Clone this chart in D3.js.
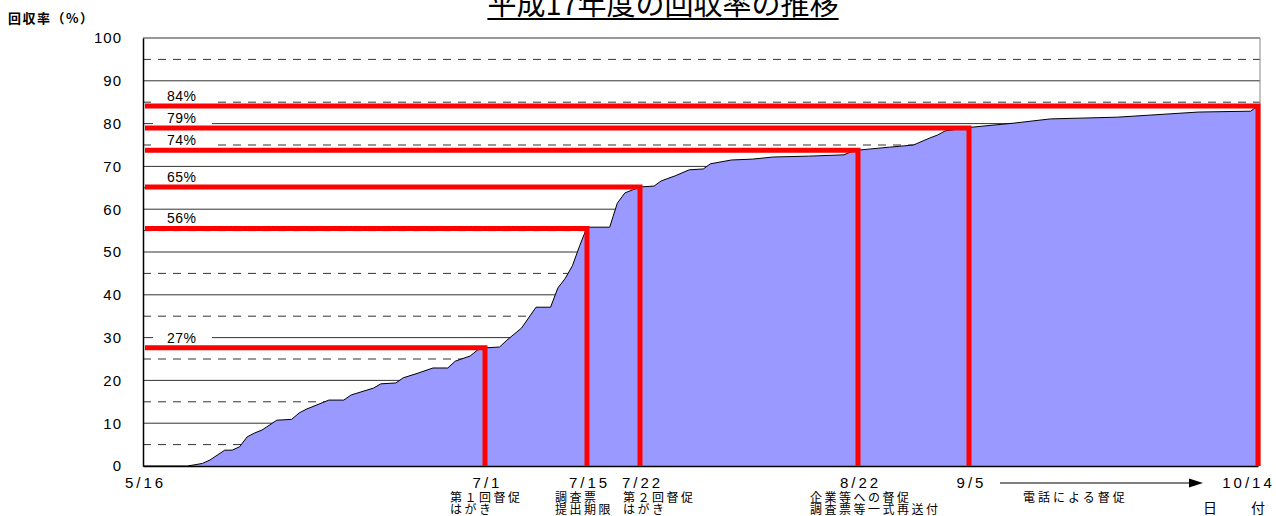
<!DOCTYPE html>
<html>
<head>
<meta charset="utf-8">
<script src="https://cdn.jsdelivr.net/npm/d3@7"></script>
<style>
  body { margin: 0; background: #fff; }
  svg { display: block; }
</style>
</head>
<body>
<svg id="chart" width="1276" height="516"></svg>
<script>
// daily cumulative return rate (%)
var dates = ["5/16","5/22","5/24","5/25","5/27","5/28","5/29","5/30","5/31","6/1",
  "6/3","6/5","6/6","6/7","6/8","6/10","6/12","6/13","6/16","6/17",
  "6/19","6/20","6/22","6/24","6/26","6/27","6/29","6/30","7/1","7/3",
  "7/4","7/6","7/8","7/10","7/11","7/12","7/13","7/14","7/15","7/18",
  "7/19","7/20","7/21","7/22","7/24","7/25","7/27","7/29","7/31","8/1",
  "8/4","8/7","8/10","8/15","8/20","8/21","8/22","8/26","8/29","8/31",
  "9/1","9/2","9/5","9/11","9/16","9/25","10/6","10/13","10/14"];
var rates = [0,0,0.6,1.4,3.7,3.7,4.5,6.8,7.7,8.4,
  10.7,10.9,12.4,13.3,14.0,15.4,15.4,16.6,18.2,19.2,
  19.4,20.6,21.7,22.9,22.9,24.5,25.7,27.1,27.6,27.8,
  29.4,32.2,37.1,37.1,41.6,43.8,46.8,51.5,55.8,55.8,
  61.4,63.8,64.5,65.2,65.4,66.6,67.8,69.2,69.4,70.6,
  71.5,71.7,72.2,72.4,72.7,73.4,73.8,74.5,75.0,76.6,
  77.3,78.3,79.1,80.1,81.1,81.5,82.7,82.9,84.1];

// milestones (red lines)
var milestoneDates = ["7/1","7/15","7/22","8/22","9/5","10/14"];
var milestoneRates = [27.6, 55.5, 65.2, 73.8, 79.0, 84.1];
var milestoneLabels = ["27%","56%","65%","74%","79%","84%"];

// notes under the date labels
var noteDates = ["7/1","7/15","7/22","8/22"];
var noteLines = [["第１回督促","はがき"],["調査票","提出期限"],["第２回督促","はがき"],["企業等への督促","調査票等一式再送付"]];
var noteDx = [-35, -32, -17, -48];

var xTickLabels = ["5/16","7/1","7/15","7/22","8/22","9/5","10/14"];
var yTicks = [0,10,20,30,40,50,60,70,80,90,100];
var yDashed = [5,15,25,35,45,55,65,75,85,95];

var parseDate = function (s) { return d3.timeParse("%Y/%m/%d")("2005/" + s); };

var svg = d3.select("#chart");
var plotLeft = 143, plotRight = 1260, plotTop = 38, plotBottom = 466;
var latin = "'Liberation Sans', Arial, sans-serif";
var cjk = "'Noto Sans CJK JP', sans-serif";

// piecewise time scale: the original category axis is not quite uniform
var x = d3.scaleTime()
  .domain(["5/16"].concat(milestoneDates).map(parseDate))
  .range([plotLeft, 485, 587, 640, 858, 969, 1258]);
var y = d3.scaleLinear().domain([0, 100]).range([plotBottom, plotTop]);

var data = dates.map(function (d, i) { return {date: parseDate(d), value: rates[i]}; });

// grid
svg.append("g").selectAll("line").data(yDashed).join("line")
  .attr("x1", plotLeft).attr("x2", plotRight)
  .attr("y1", function (d) { return y(d); }).attr("y2", function (d) { return y(d); })
  .attr("stroke", "#333").attr("stroke-dasharray", "8,7");
svg.append("g").selectAll("line").data(yTicks.slice(1)).join("line")
  .attr("x1", plotLeft).attr("x2", plotRight)
  .attr("y1", function (d) { return y(d); }).attr("y2", function (d) { return y(d); })
  .attr("stroke", "#333");
svg.append("line")
  .attr("x1", plotRight).attr("x2", plotRight).attr("y1", plotTop).attr("y2", plotBottom)
  .attr("stroke", "#888");

// area
var area = d3.area()
  .x(function (d) { return x(d.date); })
  .y0(y(0))
  .y1(function (d) { return y(d.value); });
var line = d3.line()
  .x(function (d) { return x(d.date); })
  .y(function (d) { return y(d.value); });
svg.append("path").datum(data)
  .attr("d", area)
  .attr("fill", "#9999FF");
svg.append("path").datum(data)
  .attr("d", line)
  .attr("fill", "none").attr("stroke", "#000").attr("stroke-width", 1);

// title
var title = svg.append("text")
  .attr("x", 663).attr("y", 15)
  .attr("text-anchor", "middle")
  .style("font-family", cjk).style("font-size", "29px")
  .text("平成17年度の回収率の推移");
var tw = title.node().getComputedTextLength();
svg.append("line")
  .attr("x1", 663 - tw / 2).attr("x2", 663 + tw / 2)
  .attr("y1", 19).attr("y2", 19)
  .attr("stroke", "#000").attr("stroke-width", 2);

// y axis title
svg.append("text")
  .attr("x", 8).attr("y", 23)
  .style("font-family", cjk).style("font-size", "13px").style("font-weight", "bold")
  .style("letter-spacing", "1.5px")
  .text("回収率（%）");

// axes
var yAxis = d3.axisLeft(y).tickValues(yTicks).tickSize(0).tickPadding(21);
var gy = svg.append("g").attr("transform", "translate(" + plotLeft + ",0)").call(yAxis);
gy.select(".domain").attr("stroke", "#000").attr("stroke-width", 1.5);
gy.selectAll("text")
  .style("font-family", latin).style("font-size", "15px")
  .style("letter-spacing", "1px").attr("fill", "#000");

var xAxis = d3.axisBottom(x)
  .tickValues(xTickLabels.map(parseDate))
  .tickFormat(d3.timeFormat("%-m/%-d"))
  .tickSize(0).tickPadding(11);
var gx = svg.append("g").attr("transform", "translate(0," + plotBottom + ")").call(xAxis);
gx.select(".domain").attr("stroke", "#000").attr("stroke-width", 1.5);
gx.selectAll("text")
  .style("font-family", latin).style("font-size", "15px")
  .style("letter-spacing", "3px").attr("fill", "#000")
  .attr("dx", function (d, i) { return i === xTickLabels.length - 1 ? -10 : 2; });

// label boxes + labels
var ms = milestoneDates.map(function (d, i) {
  return {date: parseDate(d), value: milestoneRates[i], label: milestoneLabels[i]};
});
var lab = svg.append("g");
lab.selectAll("rect").data(ms).join("rect")
  .attr("x", 153).attr("width", 59)
  .attr("y", function (d) { return y(d.value) - 18; })
  .attr("height", 15.5)
  .attr("fill", "#fff");
lab.selectAll("text").data(ms).join("text")
  .attr("x", 167)
  .attr("y", function (d) { return y(d.value) - 5; })
  .style("font-family", latin).style("font-size", "14px")
  .style("letter-spacing", "0.5px")
  .text(function (d) { return d.label; });

// red lines
svg.append("g").selectAll("path").data(ms).join("path")
  .attr("d", function (d) {
    return "M" + (plotLeft + 2) + "," + y(d.value) + "H" + x(d.date) + "V" + plotBottom;
  })
  .attr("fill", "none").attr("stroke", "#FF0000").attr("stroke-width", 5)
  .attr("stroke-linejoin", "miter");

// notes
noteDates.forEach(function (d, i) {
  var t = svg.append("text")
    .attr("x", x(parseDate(d)) + noteDx[i]).attr("y", 502)
    .style("font-family", cjk).style("font-size", "12px")
    .style("letter-spacing", "2.5px");
  noteLines[i].forEach(function (s, j) {
    t.append("tspan").attr("x", x(parseDate(d)) + noteDx[i])
      .attr("dy", j === 0 ? 0 : 12).text(s);
  });
});

// phone reminder arrow
var ax0 = x(parseDate("9/5")) + 31, ax1 = x(parseDate("10/14")) - 55;
svg.append("line")
  .attr("x1", ax0).attr("x2", ax1 - 10).attr("y1", 483).attr("y2", 483)
  .attr("stroke", "#000").attr("stroke-width", 1.2);
svg.append("path")
  .attr("d", "M" + ax1 + ",483L" + (ax1 - 14) + ",478.5L" + (ax1 - 14) + ",487.5Z")
  .attr("fill", "#000");
svg.append("text")
  .attr("x", ax0 + 23).attr("y", 502)
  .style("font-family", cjk).style("font-size", "12px")
  .style("letter-spacing", "3px")
  .text("電話による督促");

// x axis title
svg.append("text").attr("x", 1203).attr("y", 513)
  .style("font-family", cjk).style("font-size", "14px").text("日");
svg.append("text").attr("x", 1251).attr("y", 513)
  .style("font-family", cjk).style("font-size", "14px").text("付");
</script>
</body>
</html>
